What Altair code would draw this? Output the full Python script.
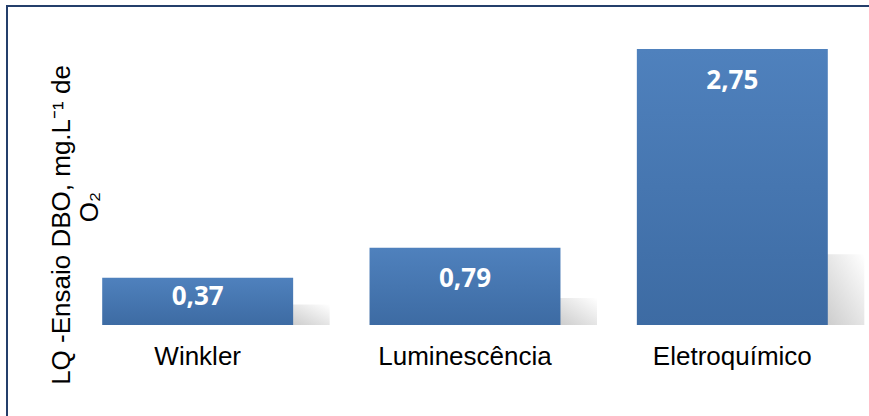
import altair as alt
import pandas as pd

# Data
categories = ["Winkler", "Luminescência", "Eletroquímico"]
bar_heights = [0.47, 0.77, 2.75]          # bar heights as drawn
bar_labels = ["0,37", "0,79", "2,75"]      # data labels printed on the bars
y_title_lines = ["LQ -Ensaio DBO, mg.L⁻¹ de", "O₂"]

df = pd.DataFrame({"cat": categories, "h": bar_heights, "lab": bar_labels})

FONT = "Liberation Sans"

x_enc = alt.X(
    "cat:N",
    sort=None,
    title=None,
    scale=alt.Scale(paddingInner=0.2857, paddingOuter=0.1429),
    axis=alt.Axis(
        labelFont=FONT, labelFontSize=26, labelColor="#000000",
        ticks=False, tickSize=0, domain=False, labelPadding=18, labelAngle=0,
    ),
)
y_scale = alt.Scale(domain=[0, 3], nice=False)

base = alt.Chart(df)

shadow = base.mark_bar(
    size=40, xOffset=112,
    color=alt.Gradient(
        gradient="linear",
        stops=[alt.GradientStop(offset=0, color="#cbcbcb"),
               alt.GradientStop(offset=1, color="#ffffff")],
        x1=0, x2=1, y1=1, y2=0,
    ),
).transform_calculate(
    sh="datum.h * 0.22 + 0.1"
).encode(
    x=x_enc,
    y=alt.Y("sh:Q", scale=y_scale),
)

bars = base.mark_bar(
    color=alt.Gradient(
        gradient="linear",
        stops=[alt.GradientStop(offset=0, color="#4f81bd"),
               alt.GradientStop(offset=1, color="#3d6ba3")],
        x1=0, x2=0, y1=0, y2=1,
    ),
).encode(
    x=x_enc,
    y=alt.Y(
        "h:Q", scale=y_scale, title=None,
        axis=alt.Axis(labels=False, ticks=False, domain=False, grid=False),
    ),
)

text = base.mark_text(
    font="Open Sans", fontSize=26, fontWeight="bold", color="#ffffff",
    baseline="middle", align="center",
).transform_calculate(
    ly="max(datum.h - 0.315, datum.h * 0.6)"
).encode(
    x=x_enc,
    y=alt.Y("ly:Q", scale=y_scale),
    text="lab:N",
)

title_data = alt.Data(values=[{}])
title1 = alt.Chart(title_data).mark_text(
    font=FONT, fontSize=26, color="#000000", angle=270,
    align="center", baseline="alphabetic",
).encode(x=alt.value(6), y=alt.value(201), text=alt.value(y_title_lines[0]))
title2 = alt.Chart(title_data).mark_text(
    font=FONT, fontSize=26, color="#000000", angle=270,
    align="center", baseline="alphabetic",
).encode(x=alt.value(34), y=alt.value(183), text=alt.value(y_title_lines[1]))

frame = alt.Chart(alt.Data(values=[{}])).mark_rect(
    filled=False, stroke="#243f6b", strokeWidth=2,
).encode(
    x=alt.value(-57), x2=alt.value(830),
    y=alt.value(-18), y2=alt.value(420),
)

chart = alt.layer(frame, shadow, bars, text, title1, title2).properties(
    width=802, height=301,
    autosize=alt.AutoSizeParams(type="none"),
    padding={"left": 64, "top": 24, "right": 3, "bottom": 91},
    background="#ffffff",
).configure_view(stroke=None)

chart.save("out.html", embed_options={"renderer": "svg", "actions": False})
